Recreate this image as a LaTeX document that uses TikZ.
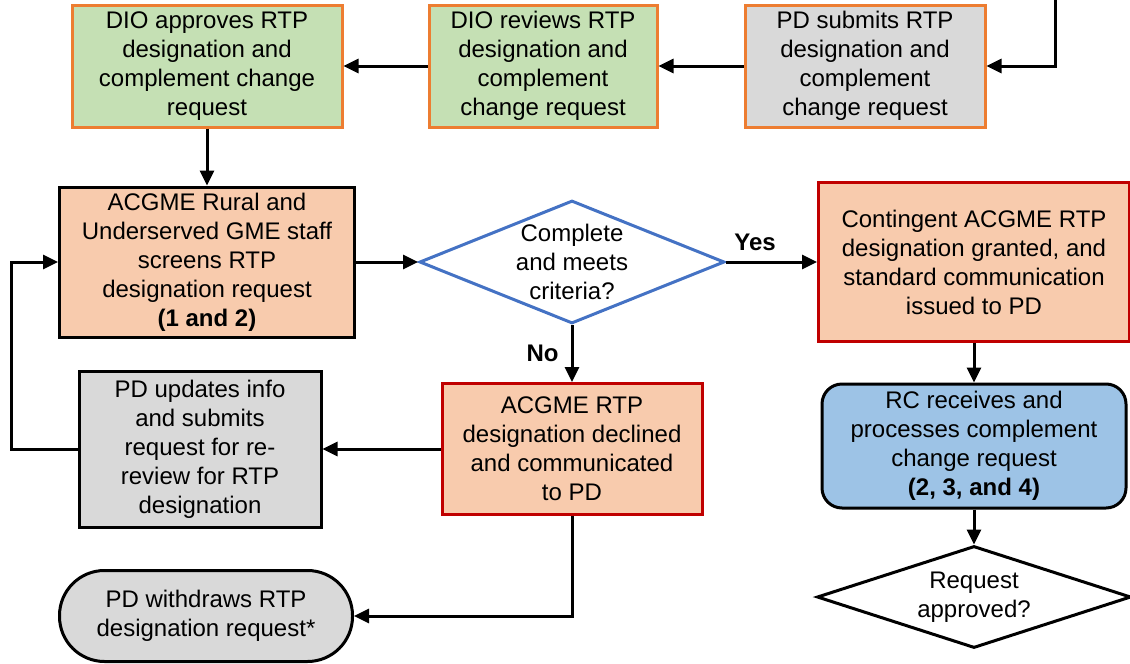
\documentclass[tikz,border=0pt]{standalone}
\usepackage{fontspec}
\setmainfont{Liberation Sans}
\usetikzlibrary{arrows.meta, shapes.geometric}
\definecolor{fillgreen}{HTML}{C5E0B4}
\definecolor{fillgray}{HTML}{D9D9D9}
\definecolor{fillsalmon}{HTML}{F8CBAD}
\definecolor{fillblue}{HTML}{9DC3E6}
\definecolor{lineorange}{HTML}{ED7D31}
\definecolor{linered}{HTML}{C00000}
\definecolor{lineblue}{HTML}{4472C4}

\begin{document}
\begin{tikzpicture}[x=1pt, y=-1pt,
        every node/.style={align=center, inner sep=0pt, font=\fontsize{24}{29}\selectfont},
        diobox/.style={draw=lineorange, fill=fillgreen, line width=3pt},
        submitbox/.style={draw=lineorange, fill=fillgray, line width=3pt},
        staffbox/.style={draw, fill=fillsalmon, line width=3pt},
        resultbox/.style={draw=linered, fill=fillsalmon, line width=3pt},
        pdbox/.style={draw, fill=fillgray, line width=3pt},
        rcbox/.style={draw, fill=fillblue, line width=3pt, rounded corners=20pt},
        choice/.style={diamond, draw, fill=white, line width=3pt},
        answer/.style={font=\bfseries\fontsize{24}{29}\selectfont},
        flow/.style={line width=3pt, -{Triangle[length=15pt, width=14pt]}}]

        \useasboundingbox (0,0) rectangle (1130,664);

        \node[diobox, minimum width=270, minimum height=122] (approve) at (207,66)
            {DIO approves RTP\\designation and\\complement change\\request};
        \node[diobox, minimum width=228, minimum height=122] (review) at (543,66)
            {DIO reviews RTP\\designation and\\complement\\change request};
        \node[submitbox, minimum width=240, minimum height=122] (submit) at (865,66)
            {PD submits RTP\\designation and\\complement\\change request};
        \node[staffbox, minimum width=295, minimum height=150] (screen) at (207,262)
            {ACGME Rural and\\Underserved GME staff\\screens RTP\\designation request\\\textbf{(1 and 2)}};
        \node[choice, draw=lineblue, minimum width=305, minimum height=123,
            label={center:Complete\\and meets\\criteria?}] (check) at (572,262) {};
        \node[resultbox, minimum width=311, minimum height=159] (grant) at (974,262)
            {Contingent ACGME RTP\\designation granted, and\\standard communication\\issued to PD};
        \node[resultbox, minimum width=260, minimum height=131] (decline) at (572,449)
            {ACGME RTP\\designation declined\\and communicated\\to PD};
        \node[pdbox, minimum width=242, minimum height=156] (update) at (200,449)
            {PD updates info\\and submits\\request for re-\\review for RTP\\designation};
        \node[pdbox, rounded corners=45pt, minimum width=293, minimum height=91] (withdraw) at (206,616)
            {PD withdraws RTP\\designation request*};
        \node[rcbox, minimum width=304, minimum height=124] (process) at (974,446)
            {RC receives and\\processes complement\\change request\\\textbf{(2, 3, and 4)}};
        \node[choice, minimum width=314, minimum height=102,
            label={center:Request\\approved?}] (approved) at (974,597) {};

        \coordinate (entry) at (1055,-2);

        \draw[flow] (entry) |- (submit);
        \draw[flow] (submit) -- (review);
        \draw[flow] (review) -- (approve);
        \draw[flow] (approve) -- (screen);
        \draw[flow] (screen) -- (check);
        \draw[flow] (check) -- node[answer, above, pos=0.32, yshift=10pt] {Yes} (grant);
        \draw[flow] (check) -- node[answer, left, xshift=-12pt] {No} (decline);
        \draw[flow] (grant) -- (process);
        \draw[flow] (process) -- (approved);
        \draw[flow] (decline) -- (update);
        \draw[flow] (update.west) -- ++(-66,0) |- (screen.west);
        \draw[flow] (decline.south) |- (withdraw.east);

      \end{tikzpicture}
\end{document}
